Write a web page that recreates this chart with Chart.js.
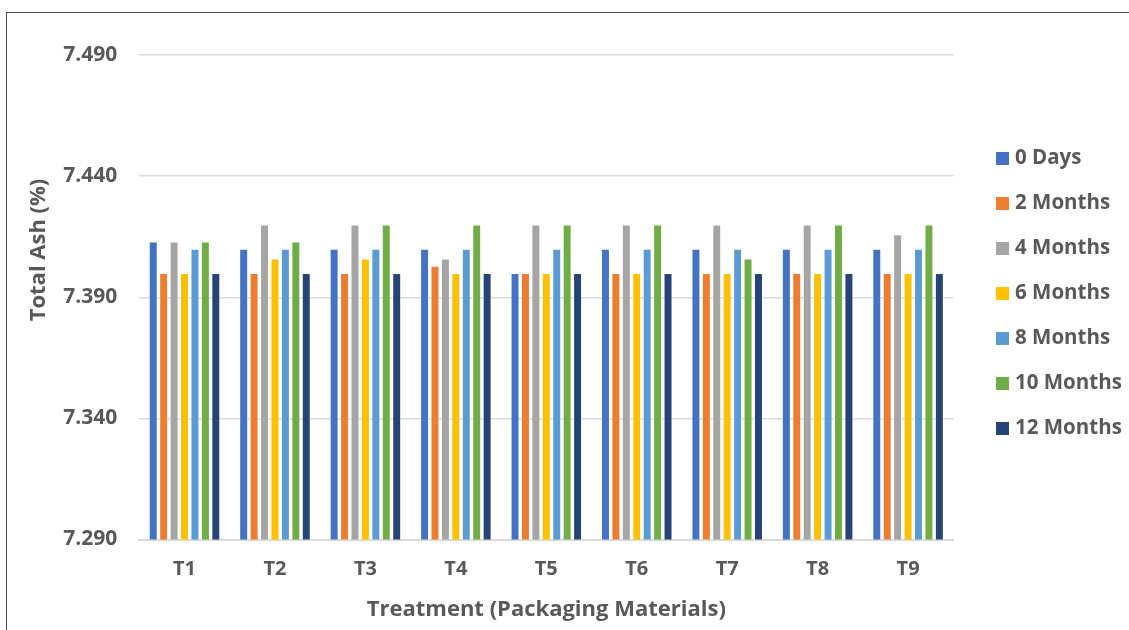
<!DOCTYPE html>
<html>
<head>
<meta charset="utf-8">
<title>Total Ash (%)</title>
<script src="https://cdn.jsdelivr.net/npm/chart.js@4/dist/chart.umd.min.js"></script>
<style>
  html, body { margin: 0; padding: 0; background: #ffffff; overflow: hidden; }
  #wrap { position: relative; width: 1129px; height: 630px; }
  #frame {
    position: absolute; left: 6px; top: 12px; width: 1200px; height: 700px;
    border-top: 1.5px solid #4a4a4a; border-left: 1.5px solid #4a4a4a;
    pointer-events: none;
  }
  canvas { position: absolute; left: 0; top: 0; }
</style>
</head>
<body>
<div id="wrap">
  <div id="frame"></div>
  <canvas id="chart" width="1129" height="630"></canvas>
</div>
<script>
// Treatments (packaging materials)
const categories = ['T1', 'T2', 'T3', 'T4', 'T5', 'T6', 'T7', 'T8', 'T9'];

// Storage periods
const seriesNames = ['0 Days', '2 Months', '4 Months', '6 Months', '8 Months', '10 Months', '12 Months'];

// Total ash (%) per treatment, one array per storage period
const days0    = [7.413, 7.410, 7.410, 7.410, 7.400, 7.410, 7.410, 7.410, 7.410];
const months2  = [7.400, 7.400, 7.400, 7.403, 7.400, 7.400, 7.400, 7.400, 7.400];
const months4  = [7.413, 7.420, 7.420, 7.406, 7.420, 7.420, 7.420, 7.420, 7.416];
const months6  = [7.400, 7.406, 7.406, 7.400, 7.400, 7.400, 7.400, 7.400, 7.400];
const months8  = [7.410, 7.410, 7.410, 7.410, 7.410, 7.410, 7.410, 7.410, 7.410];
const months10 = [7.413, 7.413, 7.420, 7.420, 7.420, 7.420, 7.406, 7.420, 7.420];
const months12 = [7.400, 7.400, 7.400, 7.400, 7.400, 7.400, 7.400, 7.400, 7.400];

// Value axis tick labels
const yTickLabels = ['7.290', '7.340', '7.390', '7.440', '7.490'];

const seriesColors = ['#4472C4', '#ED7D31', '#A5A5A5', '#FFC000', '#5B9BD5', '#70AD47', '#264478'];
const seriesValues = [days0, months2, months4, months6, months8, months10, months12];

const TEXT = '#595959';
const FONT = '"Open Sans", Lato, "DejaVu Sans", sans-serif';

// Rotated value-axis title
const yTitlePlugin = {
  id: 'yTitle',
  afterDraw(chart) {
    const ctx = chart.ctx;
    ctx.save();
    ctx.translate(39, 250);
    ctx.rotate(-Math.PI / 2);
    ctx.font = 'bold 22px ' + FONT;
    ctx.fillStyle = TEXT;
    ctx.textAlign = 'center';
    ctx.textBaseline = 'middle';
    ctx.fillText('Total Ash (%)', 0, 0);
    ctx.restore();
  }
};

// Legend column on the right, built from the datasets
const sideLegendPlugin = {
  id: 'sideLegend',
  afterDraw(chart) {
    const ctx = chart.ctx;
    const boxX = 996, box = 13, textX = 1015, firstY = 158.5, step = 45;
    ctx.save();
    ctx.font = 'bold 20.5px ' + FONT;
    ctx.textAlign = 'left';
    ctx.textBaseline = 'middle';
    chart.data.datasets.forEach((ds, i) => {
      const cy = firstY + i * step;
      ctx.fillStyle = ds.backgroundColor;
      ctx.fillRect(boxX, cy - box / 2, box, box);
      ctx.fillStyle = TEXT;
      ctx.fillText(ds.label, textX, cy);
    });
    ctx.restore();
  }
};

const datasets = seriesNames.map((name, i) => ({
  label: name,
  data: seriesValues[i],
  backgroundColor: seriesColors[i],
  borderColor: 'rgba(255,255,255,0.45)',
  borderWidth: 1,
  categoryPercentage: 0.807,
  barPercentage: 0.86
}));

new Chart(document.getElementById('chart'), {
  type: 'bar',
  data: { labels: categories, datasets },
  plugins: [yTitlePlugin, sideLegendPlugin],
  options: {
    responsive: false,
    animation: false,
    layout: { padding: { top: 55, right: 175.7, bottom: 0, left: 0 } },
    plugins: {
      legend: { display: false },
      tooltip: { enabled: false },
      title: { display: false }
    },
    scales: {
      x: {
        grid: { display: false, drawTicks: false },
        border: { display: true, color: '#d9d9d9', width: 2 },
        ticks: {
          color: TEXT,
          font: { family: FONT, size: 20, weight: 'bold' },
          padding: 18
        },
        title: {
          display: true,
          text: 'Treatment (Packaging Materials)',
          color: TEXT,
          font: { family: FONT, size: 22, weight: 'bold' },
          padding: { top: 0, bottom: 7 }
        },
        afterFit(scale) { scale.height = 90.5; }
      },
      y: {
        min: 7.29,
        max: 7.49,
        grid: { color: '#d9d9d9', lineWidth: 1.5, drawTicks: false },
        border: { display: false },
        afterBuildTicks(scale) {
          scale.ticks = yTickLabels.map(t => ({ value: parseFloat(t) }));
        },
        ticks: {
          color: TEXT,
          font: { family: FONT, size: 21, weight: 'bold' },
          padding: 22,
          callback: (v) => Number(v).toFixed(3)
        },
        afterFit(scale) { scale.width = 139.3; }
      }
    }
  }
});
</script>
</body>
</html>
